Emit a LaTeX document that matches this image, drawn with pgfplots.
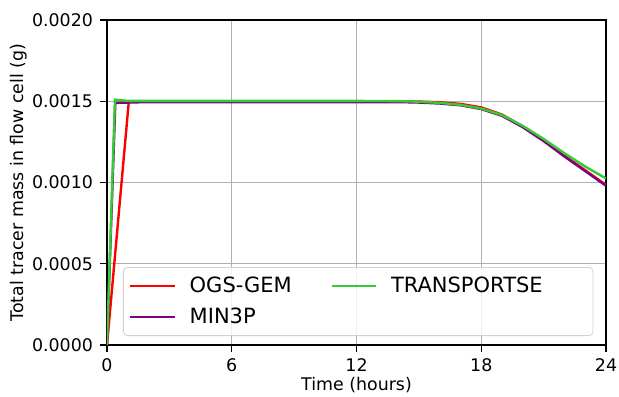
\documentclass[border=0pt]{standalone}
\usepackage{pgfplots}
\pgfplotsset{compat=1.18}
\usepackage{fontspec}
\setmainfont{DejaVu Sans}
\definecolor{mplred}{RGB}{255,0,0}
\definecolor{mplpurple}{RGB}{128,0,128}
\definecolor{mplgreen}{RGB}{50,205,50}
\definecolor{gridgray}{RGB}{176,176,176}
\begin{document}
\begin{tikzpicture}
\begin{axis}[
  scale only axis,
  width=249.5pt, height=162.5pt,
  xmin=0, xmax=24, ymin=0, ymax=0.002,
  xtick={0,6,12,18,24},
  ytick={0,0.0005,0.001,0.0015,0.002},
  yticklabels={0.0000,0.0005,0.0010,0.0015,0.0020},
  grid=major,
  grid style={gridgray, line width=0.7pt},
  axis line style={line width=0.6pt},
  tick style={black, line width=0.6pt},
  tick align=outside,
  major tick length=3.5pt,
  xtick pos=bottom, ytick pos=left,
  /pgf/number format/assume math mode=true,
  ticklabel style={font=\fontsize{8.7}{10}\selectfont},
  label style={font=\fontsize{8.7}{10}\selectfont},
  xlabel={Time (hours)},
  ylabel={Total tracer mass in flow cell (g)},
  x label style={at={(axis description cs:0.5,-0.123)}, anchor=center},
  y label style={at={(axis description cs:-0.176,0.5)}, anchor=center},
  scaled y ticks=false,
  legend columns=2,
  legend style={at={(rel axis cs:0,0)}, anchor=south west, xshift=8pt, yshift=4.5pt,
    font=\fontsize{10.5}{12}\selectfont,
    draw=gray!35, rounded corners=2pt, fill=white, fill opacity=0.8, text opacity=1,
    column sep=0pt, row sep=2.5pt, inner xsep=3pt, inner ysep=2.5pt,
    /tikz/every even column/.append style={column sep=8.5pt}},
  legend cell align=left,
  legend image code/.code={\draw[#1, line width=1.1pt] (0pt,0pt) -- (22pt,0pt); \path (27pt,0pt);},
  every axis plot/.append style={line width=1.2pt},
]
\addlegendimage{mplred}
\addlegendentry{\makebox[60pt][l]{OGS-GEM}}
\addlegendimage{mplgreen}
\addlegendentry{\makebox[96pt][l]{TRANSPORTSE}}
\addlegendimage{mplpurple}
\addlegendentry{\makebox[60pt][l]{MIN3P}}
\addplot[mplred, forget plot] coordinates {
(0,0) (1.05,0.0015) (2,0.0015) (6,0.0015) (12,0.0015) (14,0.0015) (15,0.001498) (16,0.001494) (17,0.001484) (18,0.001462) (19,0.001418) (20,0.001345) (21,0.001262) (22,0.001165) (23,0.001075) (24,0.000985)};
\addplot[mplpurple, forget plot] coordinates {
(0,0) (0.4,0.00149) (2,0.001495) (6,0.001495) (12,0.001495) (14,0.001495) (15,0.001492) (16,0.001486) (17,0.001475) (18,0.001452) (19,0.00141) (20,0.00134) (21,0.001255) (22,0.00116) (23,0.00107) (24,0.00098)};
\addplot[mplgreen, forget plot] coordinates {
(0,0) (0.38,0.00151) (1,0.001502) (6,0.001502) (12,0.001502) (14,0.001501) (15,0.001497) (16,0.00149) (17,0.001478) (18,0.001455) (19,0.001415) (20,0.001348) (21,0.001268) (22,0.00118) (23,0.001098) (24,0.001025)};
\coordinate (SW) at (rel axis cs:0,0);
\coordinate (NE) at (rel axis cs:1,1);
\end{axis}
\pgfresetboundingbox
\path ([shift={(-53.5pt,-25.5pt)}]SW) rectangle ([shift={(6.5pt,10pt)}]NE);
\end{tikzpicture}
\end{document}
